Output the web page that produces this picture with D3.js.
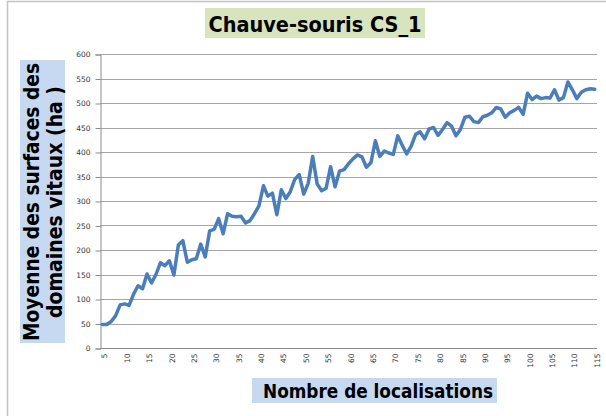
<!DOCTYPE html>
<html>
<head>
<meta charset="utf-8">
<script src="https://cdn.jsdelivr.net/npm/d3@7"></script>
<style>
    html, body { margin: 0; padding: 0; background: #fff; }
</style>
</head>
<body>
<div id="graph"></div>
<script>
"use strict";

var categories = [5, 6, 7, 8, 9, 10, 11, 12, 13, 14, 15, 16, 17, 18, 19, 20, 21, 22, 23, 24,
    25, 26, 27, 28, 29, 30, 31, 32, 33, 34, 35, 36, 37, 38, 39, 40, 41, 42, 43, 44,
    45, 46, 47, 48, 49, 50, 51, 52, 53, 54, 55, 56, 57, 58, 59, 60, 61, 62, 63, 64,
    65, 66, 67, 68, 69, 70, 71, 72, 73, 74, 75, 76, 77, 78, 79, 80, 81, 82, 83, 84,
    85, 86, 87, 88, 89, 90, 91, 92, 93, 94, 95, 96, 97, 98, 99, 100, 101, 102, 103, 104,
    105, 106, 107, 108, 109, 110, 111, 112, 113, 114, 115];

var surfaces = [48, 48, 54, 66, 88, 90, 87, 110, 127, 121,
    151, 133, 150, 174, 168, 178, 149, 210, 219, 175,
    180, 182, 212, 186, 239, 242, 264, 233, 274, 269,
    268, 269, 255, 260, 274, 290, 331, 310, 316, 272,
    323, 305, 319, 344, 354, 314, 336, 391, 335, 321,
    326, 370, 329, 361, 364, 376, 386, 394, 390, 369,
    378, 423, 391, 402, 398, 395, 433, 414, 396, 412,
    436, 441, 427, 447, 450, 434, 446, 460, 453, 433,
    446, 471, 473, 462, 460, 472, 475, 480, 491, 488,
    471, 480, 485, 491, 477, 520, 507, 514, 509, 511,
    510, 527, 506, 511, 543, 527, 509, 522, 527, 529,
    528];

var xTickLabels = [5, 10, 15, 20, 25, 30, 35, 40, 45, 50, 55, 60, 65, 70, 75, 80, 85, 90, 95, 100, 105, 110, 115];
var yTickLabels = [0, 50, 100, 150, 200, 250, 300, 350, 400, 450, 500, 550, 600];

var titleText = "Chauve-souris CS_1";
var yTitleLines = ["Moyenne des surfaces des", "domaines vitaux (ha )"];
var xTitleText = "Nombre de localisations";

var width = 606, height = 416;
var plot = {left: 100, right: 597, top: 54, bottom: 348};
var boldFont = "'DejaVu Sans', Verdana, sans-serif";

var svg = d3.select("#graph")
    .append("svg")
    .attr("width", width)
    .attr("height", height);

// chart frame (only the top and left edges show in the picture)
svg.append("path")
    .attr("d", "M7.5," + height + "V1.5H" + width)
    .attr("fill", "none")
    .attr("stroke", "#c4c4c4")
    .attr("stroke-width", 1.5);

var x = d3.scalePoint()
    .domain(categories)
    .range([plot.left, plot.right])
    .padding(0.5);

var y = d3.scaleLinear()
    .domain([0, 600])
    .range([plot.bottom, plot.top]);

// gridlines
svg.append("g")
    .selectAll("line")
    .data(yTickLabels.slice(1))
    .enter()
    .append("line")
    .attr("x1", plot.left)
    .attr("x2", plot.right)
    .attr("y1", function (d) { return Math.round(y(d)) + 0.5; })
    .attr("y2", function (d) { return Math.round(y(d)) + 0.5; })
    .attr("stroke", "#a6a6a6")
    .attr("stroke-width", 1);

// y axis
var yAxis = svg.append("g")
    .attr("transform", "translate(" + (plot.left + 0.5) + ",0.5)")
    .call(d3.axisLeft(y).tickValues(yTickLabels).tickSize(5).tickPadding(5));
yAxis.select(".domain").attr("stroke", "#8c8c8c");
yAxis.selectAll(".tick line").attr("stroke", "#8c8c8c");
yAxis.selectAll(".tick text")
    .attr("font-family", "'DejaVu Sans', sans-serif")
    .attr("font-size", 7.5)
    .attr("fill", "#333");

// x axis
var xAxis = svg.append("g")
    .attr("transform", "translate(0," + (plot.bottom + 0.5) + ")")
    .call(d3.axisBottom(x).tickValues(xTickLabels).tickSize(0).tickSizeOuter(0));
xAxis.select(".domain")
    .attr("stroke", "#8c8c8c")
    .attr("d", "M" + plot.left + ",0H" + plot.right);
xAxis.selectAll(".tick text")
    .attr("font-family", "'DejaVu Sans', sans-serif")
    .attr("font-size", 7.5)
    .attr("fill", "#333")
    .attr("text-anchor", "end")
    .attr("transform", "translate(2,0) rotate(-90)")
    .attr("x", -5)
    .attr("y", 0)
    .attr("dy", "0.35em");

// data line
var line = d3.line()
    .x(function (d, i) { return x(categories[i]); })
    .y(function (d) { return y(d); });

svg.append("path")
    .datum(surfaces)
    .attr("d", line)
    .attr("fill", "none")
    .attr("stroke", "#4a7ebb")
    .attr("stroke-width", 3.5)
    .attr("stroke-linejoin", "round")
    .attr("stroke-linecap", "round");

// title
svg.append("rect")
    .attr("x", 205).attr("y", 8)
    .attr("width", 220).attr("height", 30)
    .attr("fill", "#d7e4bd");
svg.append("text")
    .attr("x", 315).attr("y", 32)
    .attr("text-anchor", "middle")
    .attr("font-family", boldFont)
    .attr("font-weight", "bold")
    .attr("font-size", 22)
    .attr("textLength", 213)
    .attr("lengthAdjust", "spacingAndGlyphs")
    .attr("fill", "#000")
    .text(titleText);

// y title
svg.append("rect")
    .attr("x", 20).attr("y", 60)
    .attr("width", 45).attr("height", 283)
    .attr("fill", "#c6d9f1");
var yTitle = svg.append("g")
    .attr("transform", "translate(0,202) rotate(-90)");
yTitle.selectAll("text")
    .data(yTitleLines)
    .enter()
    .append("text")
    .attr("x", 0)
    .attr("y", function (d, i) { return 39 + i * 23; })
    .attr("text-anchor", "middle")
    .attr("font-family", boldFont)
    .attr("font-weight", "bold")
    .attr("font-size", 22)
    .attr("textLength", function (d, i) { return i === 0 ? 278 : 232; })
    .attr("lengthAdjust", "spacingAndGlyphs")
    .attr("fill", "#000")
    .text(function (d) { return d; });

// x title
svg.append("rect")
    .attr("x", 252).attr("y", 378)
    .attr("width", 245).attr("height", 25)
    .attr("fill", "#c6d9f1");
svg.append("text")
    .attr("x", 378).attr("y", 398)
    .attr("text-anchor", "middle")
    .attr("font-family", boldFont)
    .attr("font-weight", "bold")
    .attr("font-size", 19)
    .attr("textLength", 230)
    .attr("lengthAdjust", "spacingAndGlyphs")
    .attr("fill", "#000")
    .text(xTitleText);
</script>
</body>
</html>
